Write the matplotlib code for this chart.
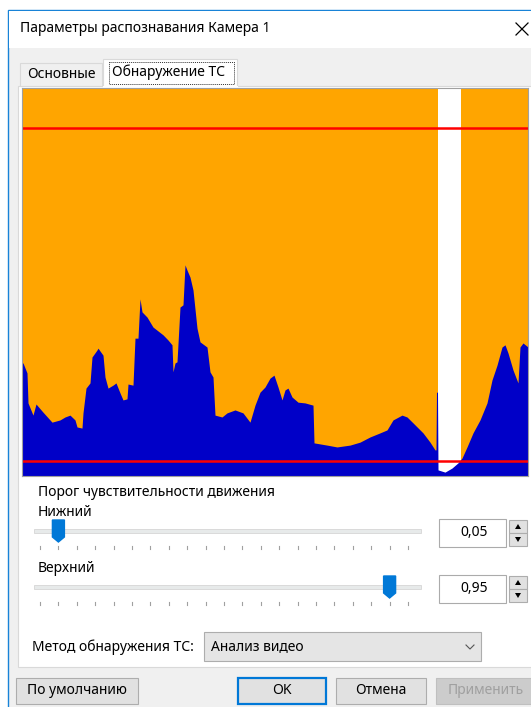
import matplotlib.pyplot as plt
from matplotlib.patches import Rectangle, Polygon

plt.rcParams['font.family'] = ['Noto Sans', 'DejaVu Sans']

# Профиль движения: номер столбца и уровень активности
frames = [0, 1, 5, 6, 11, 14, 21, 30, 38, 43, 48, 53, 55, 60, 61, 64, 68, 70, 75, 76,
          81, 83, 86, 91, 94, 98, 101, 105, 106, 111, 113, 116, 118, 120, 125, 131, 141,
          146, 150, 151, 153, 155, 158, 161, 163, 165, 168, 171, 175, 178, 185, 188, 191,
          193, 200, 205, 213, 221, 228, 233, 238, 243, 248, 252, 256, 260, 263, 266, 270,
          276, 283, 291, 292, 305, 315, 328, 338, 348, 358, 365, 371, 380, 385, 391, 401,
          408, 413, 414, 414.5, 415.5, 416, 423, 430, 436, 440, 445, 451, 458, 465, 470,
          475, 480, 483, 486, 491, 496, 498, 501, 506]
levels = [0.315, 0.315, 0.288, 0.207, 0.174, 0.204, 0.182, 0.155, 0.161, 0.169, 0.174,
          0.161, 0.142, 0.139, 0.180, 0.247, 0.261, 0.331, 0.350, 0.355, 0.336, 0.277,
          0.247, 0.255, 0.261, 0.234, 0.215, 0.218, 0.258, 0.255, 0.382, 0.382, 0.488,
          0.453, 0.439, 0.412, 0.391, 0.377, 0.364, 0.291, 0.315, 0.318, 0.466, 0.472,
          0.580, 0.566, 0.547, 0.512, 0.409, 0.372, 0.358, 0.291, 0.277, 0.174, 0.169,
          0.180, 0.188, 0.180, 0.155, 0.201, 0.236, 0.250, 0.274, 0.282, 0.250, 0.215,
          0.242, 0.247, 0.223, 0.209, 0.207, 0.201, 0.099, 0.093, 0.088, 0.093, 0.101,
          0.115, 0.126, 0.134, 0.161, 0.174, 0.169, 0.153, 0.126, 0.101, 0.080, 0.080,
          0.236, 0.236, 0.026, 0.020, 0.031, 0.045, 0.058, 0.088, 0.126, 0.161, 0.207,
          0.269, 0.309, 0.358, 0.364, 0.342, 0.296, 0.261, 0.358, 0.369, 0.358]

lower_thr = 0.05
upper_thr = 0.95
band_start, band_end = 416, 439

title = "Параметры распознавания Камера 1"
tabs = ["Основные", "Обнаружение ТС"]
group_label = "Порог чувствительности движения"
slider_labels = ["Нижний", "Верхний"]
slider_values = [lower_thr, upper_thr]
method_label = "Метод обнаружения ТС:"
method_value = "Анализ видео"
buttons = ["По умолчанию", "OK", "Отмена", "Применить"]

FS = 10

fig = plt.figure(figsize=(5.31, 7.07), dpi=100)
ui = fig.add_axes([0, 0, 1, 1])
ui.set_xlim(0, 531)
ui.set_ylim(707, 0)
ui.axis('off')


def box(x0, y0, x1, y1, fc, ec='none', lw=1.0, ls='-', z=1):
    ui.add_patch(Rectangle((x0, y0), x1 - x0, y1 - y0, facecolor=fc, edgecolor=ec,
                           linewidth=lw, linestyle=ls, zorder=z))


def label(x, y, s, ha='left', color='black', size=FS):
    ui.text(x, y, s, ha=ha, va='center', fontsize=size, color=color, zorder=5)


# окно
box(0, 0, 531, 707, 'white')
box(8, 10, 540, 720, '#F0F0F0', '#1883D7', 1.0)
box(8.5, 10.5, 540, 48, 'white')
label(20, 29, title)
ui.plot([516, 528], [23, 35], color='black', lw=0.9, zorder=5)
ui.plot([516, 528], [35, 23], color='black', lw=0.9, zorder=5)

# вкладки
box(18, 86, 540, 667, 'white', '#D9D9D9', 0.8)
box(20, 63, 102, 86, '#F0F0F0', '#D9D9D9', 0.8)
label(27, 74, tabs[0])
box(103, 59, 237, 87, 'white', '#D9D9D9', 0.8, z=2)
ui.plot([103.5, 236.5], [86.5, 86.5], color='white', lw=1.5, zorder=3)
box(109, 62, 234, 84, 'none', '#333333', 0.7, ls=(0, (1, 1)), z=4)
label(112, 72, tabs[1])

# ползунки
label(38, 492, group_label)
for i, (name, val) in enumerate(zip(slider_labels, slider_values)):
    y0 = 512 + i * 56
    label(38, y0, name)
    ty = y0 + 19
    box(34, ty - 2, 421, ty + 2, '#E7EAEA', '#D6D6D6', 0.6)
    for k in range(21):
        tx = 40 + k * 368 / 20
        ui.plot([tx, tx], [ty + 15, ty + 18], color='#A0A0A0', lw=0.8, zorder=2)
    cx = 40 + val * 368
    ui.add_patch(Polygon([(cx - 6, ty - 11), (cx + 6, ty - 11), (cx + 6, ty + 6),
                          (cx, ty + 11), (cx - 6, ty + 6)], closed=True,
                         facecolor='#0078D7', edgecolor='#0078D7', zorder=4))
    # поле со счётчиком
    sy = 519 + i * 56
    box(439, sy, 506, sy + 28, 'white', '#ABABAB', 0.8)
    label(474, sy + 14, f"{val:.2f}".replace('.', ','), ha='center')
    box(509, sy + 1, 527, sy + 14, '#E1E1E1', '#ADADAD', 0.8)
    box(509, sy + 14, 527, sy + 27, '#E1E1E1', '#ADADAD', 0.8)
    ui.add_patch(Polygon([(515, sy + 10), (521, sy + 10), (518, sy + 5)], closed=True,
                         facecolor='black', zorder=4))
    ui.add_patch(Polygon([(515, sy + 18), (521, sy + 18), (518, sy + 23)], closed=True,
                         facecolor='black', zorder=4))

# метод обнаружения
label(32, 647, method_label)
box(204, 632, 481, 661, '#E5E5E5', '#ADADAD', 0.8)
label(211, 647, method_value)
ui.plot([466, 470, 474], [645, 649, 645], color='#555555', lw=0.8, zorder=5)

# кнопки
btn_x = [(16, 138), (238, 326), (336, 426), (436, 540)]
for (x0, x1), name in zip(btn_x, buttons):
    disabled = name == "Применить"
    ec = '#0078D7' if name == "OK" else ('#BFBFBF' if disabled else '#ADADAD')
    lw = 1.6 if name == "OK" else 0.8
    box(x0, 678, x1, 704, '#CCCCCC' if disabled else '#E1E1E1', ec, lw)
    cx = (x0 + min(x1, 531)) / 2 if not disabled else 486
    label(cx, 691, name, ha='center', color='#A0A0A0' if disabled else 'black')

# график активности
ax = fig.add_axes([22 / 531, (707 - 476) / 707, (528 - 22) / 531, (476 - 88) / 707])
ax.set_facecolor('#FFA500')
ax.axvspan(band_start, band_end, color='white', lw=0)
ax.fill_between(frames, levels, -1, color='#0000C8', lw=0)
ax.axhline(upper_thr, color='#FF0000', lw=1.8)
ax.axhline(lower_thr, color='#FF0000', lw=1.8)
ax.set_xlim(0, 506)
ax.set_ylim(0.0095, 1.058)
ax.set_xticks([])
ax.set_yticks([])
for s in ax.spines.values():
    s.set_color('#A0A0A0')
    s.set_linewidth(0.8)

fig.savefig('out.png', dpi=100)
